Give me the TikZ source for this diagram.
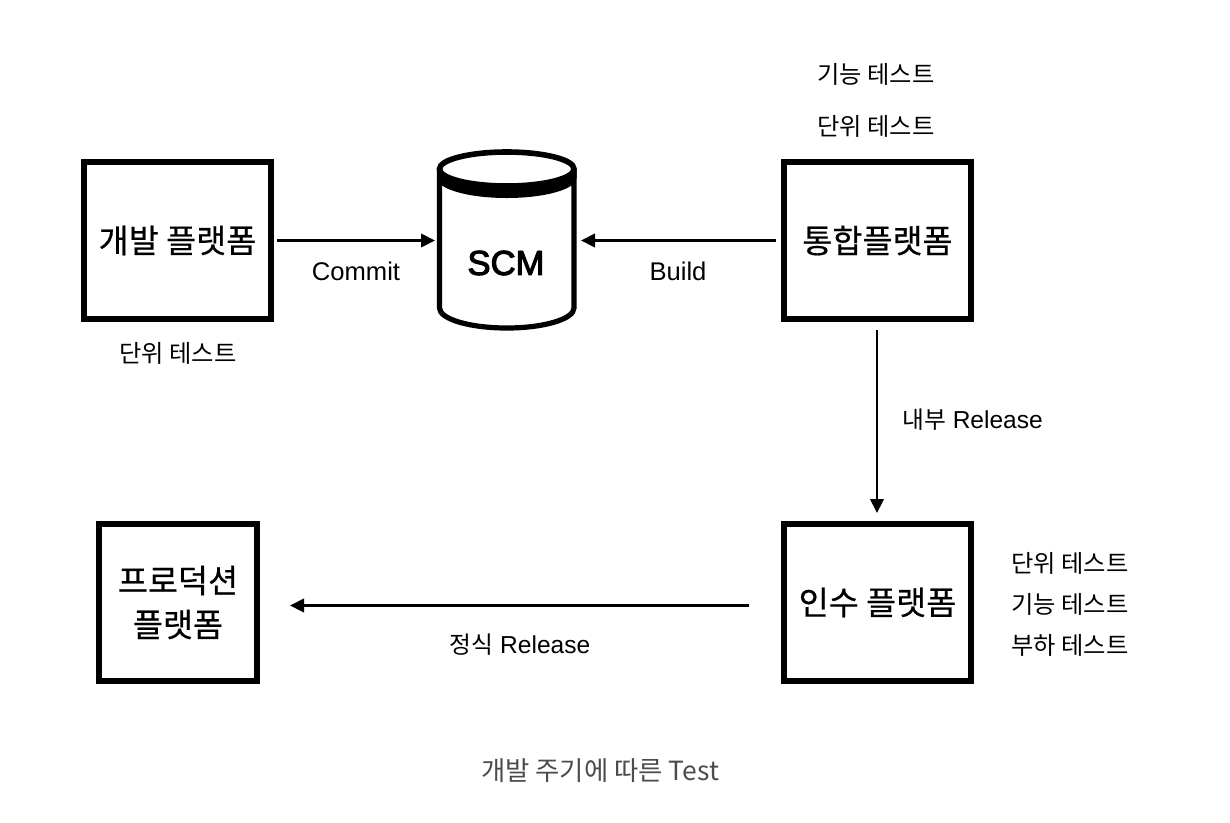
\documentclass[tikz,border=0pt]{standalone}
\usepackage{fontspec}
\setmainfont{Liberation Sans}
\newfontfamily\kr{Noto Sans CJK KR}
\newfontfamily\krm[FakeBold=0.5]{Noto Sans CJK KR}
\newfontfamily\ltb[FakeBold=3]{Liberation Sans}
\usetikzlibrary{arrows.meta}
\tikzset{
  platform/.style={draw=black,line width=4.5pt,fill=white,inner sep=0pt,align=center,font=\krm\fontsize{24.5}{33}\selectfont},
  note/.style={font=\kr\fontsize{18.2}{20}\selectfont,inner sep=0pt,text=black},
  lbl/.style={font=\fontsize{19.2}{20}\selectfont,inner sep=0pt,text=black},
  rel/.style={font=\fontsize{18.4}{20}\selectfont,inner sep=0pt,text=black},
  flow/.style={line width=2.2pt,-{Triangle[length=10.5pt,width=10pt]}},
}
\begin{document}
\begin{tikzpicture}[x=0.75pt,y=-0.75pt]
\useasboundingbox (0,0) rectangle (1230,822);
\fill[white] (0,0) rectangle (1230,822);
\node[platform,minimum width=140.25pt,minimum height=117.75pt] (dev) at (177.5,240.5) {개발 플랫폼};
\node[platform,minimum width=140.25pt,minimum height=117.75pt] (int) at (877.5,240.5) {통합플랫폼};
\node[platform,minimum width=140.25pt,minimum height=117.75pt] (acc) at (877.5,602.5) {인수 플랫폼};
\node[platform,minimum width=118.5pt,minimum height=117.75pt] (prod) at (178,602.5) {프로덕션\\플랫폼};
% SCM cylinder
\draw[line width=3.9pt,fill=white] (439.5,170) -- (439.5,308) arc[start angle=180,end angle=0,x radius=67.25,y radius=20] -- (574,170);
\fill[black] (437,170) arc[start angle=180,end angle=0,x radius=69.75,y radius=18] -- (576.5,178) arc[start angle=0,end angle=180,x radius=69.75,y radius=20] -- cycle;
\draw[line width=4.2pt,fill=white] (506.75,169) ellipse[x radius=67.25,y radius=17];
\node[font=\ltb\fontsize{26}{30}\selectfont,inner sep=0pt] (scmt) at (506,263) {SCM};
\coordinate (scmL) at (435,240.5);
\coordinate (scmR) at (581,240.5);
\coordinate (devR) at (277,240.5);
\coordinate (intL) at (776,240.5);
\coordinate (intB) at (877,330);
\coordinate (accT) at (877,513);
\coordinate (accL) at (749,605.5);
\coordinate (prodR) at (290,605.5);
\draw[flow] (devR) -- (scmL);
\draw[flow] (intL) -- (scmR);
\draw[flow] (intB) -- (accT);
\draw[flow] (accL) -- (prodR);
\node[lbl] (n1) at (356,271) {Commit};
\node[lbl] (n2) at (678,271) {Build};
\node[rel] (n3) at (972.5,420) {{\kr\fontsize{17.8}{20}\selectfont 내부} Release};
\node[rel] (n4) at (520,645) {{\kr\fontsize{17.8}{20}\selectfont 정식} Release};
\node[note] (a1) at (178,353) {단위 테스트};
\node[note] (a2) at (876,74) {기능 테스트};
\node[note] (a3) at (876,126) {단위 테스트};
\node[note] (a4) at (1070,563) {단위 테스트};
\node[note] (a5) at (1070,604) {기능 테스트};
\node[note] (a6) at (1070,645) {부하 테스트};
\node[font=\kr\fontsize{19.8}{22}\selectfont,inner sep=0pt,text=black!70] (cap) at (600,771) {개발 주기에 따른 Test};
\end{tikzpicture}
\end{document}
